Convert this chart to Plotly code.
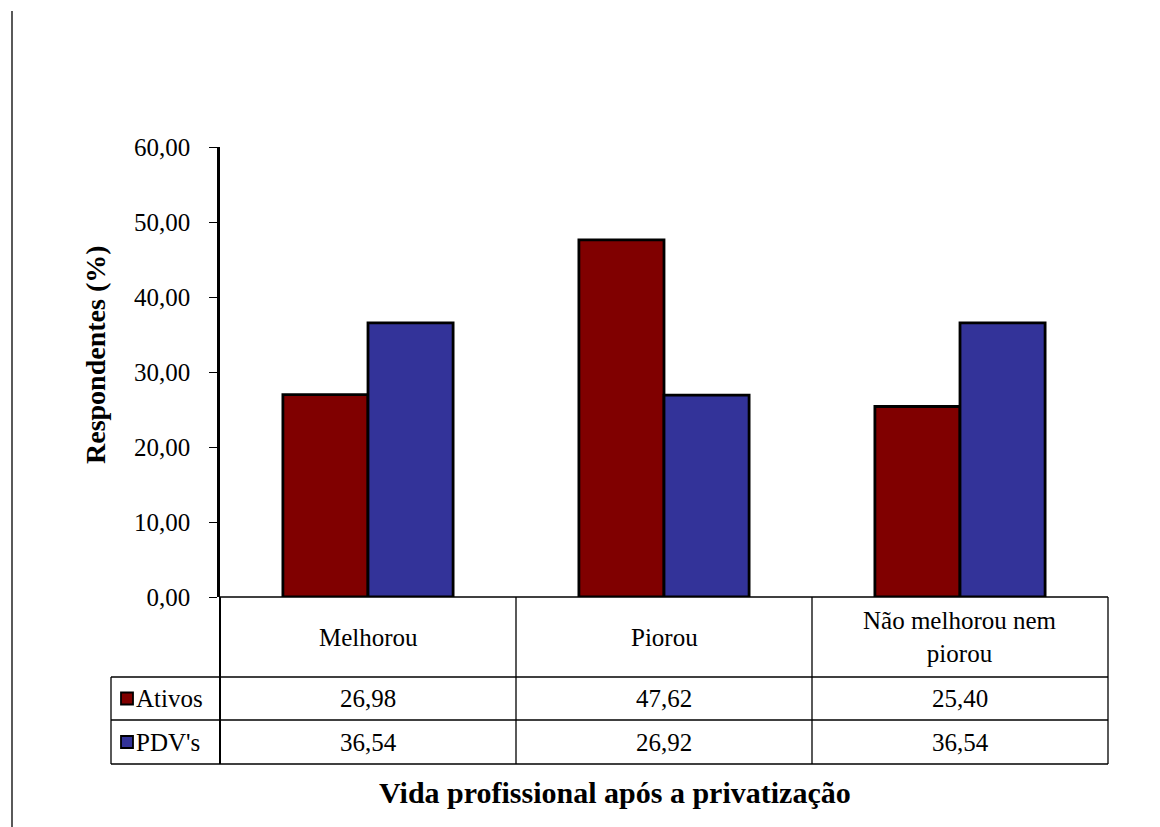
import plotly.graph_objects as go

# Data
categories = ["Melhorou", "Piorou", "Não melhorou nem piorou"]
category_labels = ["Melhorou", "Piorou", "Não melhorou nem<br>piorou"]
series_names = ["Ativos", "PDV's"]
ativos = [26.98, 47.62, 25.40]
pdvs = [36.54, 26.92, 36.54]
series_colors = ["#800000", "#333399"]
y_ticks = [0, 10, 20, 30, 40, 50, 60]

FONT = "Liberation Serif, Times New Roman, serif"

W, H = 1160, 827
L, R, T, B = 220, 52, 147, 230
PW, PH = W - L - R, H - T - B


def px_x(px):
    return (px - L) / PW


def px_y(py):
    return (H - B - py) / PH


def fmt(v):
    return f"{v:.2f}".replace(".", ",")


fig = go.Figure()
for name, vals, col in zip(series_names, [ativos, pdvs], series_colors):
    fig.add_trace(go.Bar(
        x=list(range(len(categories))), y=vals, name=name,
        marker=dict(color=col, line=dict(color="black", width=2.8)),
        showlegend=False, hoverinfo="skip",
    ))

shapes = []
line_thin = dict(color="black", width=1.3)

# outer frame line on the left
shapes.append(dict(type="line", xref="paper", yref="paper",
                   x0=px_x(12), x1=px_x(12), y0=px_y(11), y1=px_y(830),
                   line=dict(color="black", width=1.3)))

# data table grid
row_tops = [597, 677, 720, 764]
ncat = len(categories)
col_edges = [L + i * PW / ncat for i in range(ncat + 1)]
shapes.append(dict(type="line", xref="paper", yref="paper",
                   x0=px_x(L), x1=px_x(col_edges[-1]), y0=px_y(597), y1=px_y(597), line=line_thin))
for ry in row_tops[1:]:
    shapes.append(dict(type="line", xref="paper", yref="paper",
                       x0=px_x(111), x1=px_x(col_edges[-1]), y0=px_y(ry), y1=px_y(ry), line=line_thin))
shapes.append(dict(type="line", xref="paper", yref="paper",
                   x0=px_x(111), x1=px_x(111), y0=px_y(677), y1=px_y(764), line=line_thin))
shapes.append(dict(type="line", xref="paper", yref="paper",
                   x0=0, x1=0, y0=px_y(597), y1=px_y(764), line=dict(color="black", width=2)))
for ce in col_edges[1:]:
    shapes.append(dict(type="line", xref="paper", yref="paper",
                       x0=px_x(ce), x1=px_x(ce), y0=px_y(597), y1=px_y(764), line=line_thin))

annotations = []
row_centers = [(row_tops[i] + row_tops[i + 1]) / 2 for i in range(3)]
cell_font = dict(family=FONT, size=25, color="black")
for i, lab in enumerate(category_labels):
    annotations.append(dict(x=i, xref="x", y=px_y(row_centers[0]), yref="paper",
                            text=lab, showarrow=False, xanchor="center", yanchor="middle",
                            font=cell_font))
for r, (name, vals, col) in enumerate(zip(series_names, [ativos, pdvs], series_colors)):
    yc = row_centers[r + 1]
    for i, v in enumerate(vals):
        annotations.append(dict(x=i, xref="x", y=px_y(yc), yref="paper",
                                text=fmt(v), showarrow=False, xanchor="center", yanchor="middle",
                                font=cell_font))
    # legend key
    shapes.append(dict(type="rect", xref="paper", yref="paper",
                       x0=px_x(121), x1=px_x(133), y0=px_y(yc + 6), y1=px_y(yc - 6),
                       fillcolor=col, line=dict(color="black", width=1.8)))
    annotations.append(dict(x=px_x(134), xref="paper", y=px_y(yc), yref="paper",
                            text=name, showarrow=False, xanchor="left", yanchor="middle",
                            font=cell_font))

# axis titles
annotations.append(dict(x=px_x(95), xref="paper", y=px_y(355), yref="paper",
                        text="<b>Respondentes (%)</b>", textangle=-90, showarrow=False,
                        xanchor="center", yanchor="middle",
                        font=dict(family=FONT, size=28, color="black")))
annotations.append(dict(x=px_x(615), xref="paper", y=px_y(792), yref="paper",
                        text="<b>Vida profissional após a privatização</b>", showarrow=False,
                        xanchor="center", yanchor="middle",
                        font=dict(family=FONT, size=30, color="black")))

fig.update_layout(
    width=W, height=H,
    margin=dict(l=L, r=R, t=T, b=B),
    paper_bgcolor="white", plot_bgcolor="white",
    barmode="group", bargap=0.425, bargroupgap=0,
    separators=",.",
    shapes=shapes, annotations=annotations,
    xaxis=dict(range=[-0.5, ncat - 0.5], showticklabels=False, showgrid=False,
               zeroline=False, showline=False, ticks=""),
    yaxis=dict(range=[0, 60], tickvals=y_ticks, tickformat=".2f",
               showgrid=False, zeroline=False, showline=True, linecolor="black", linewidth=2.5,
               ticks="outside", ticklen=8, tickwidth=1.3, tickcolor="black",
               ticklabelstandoff=14,
               tickfont=dict(family=FONT, size=25, color="black")),
)

fig.write_html("out.html")
